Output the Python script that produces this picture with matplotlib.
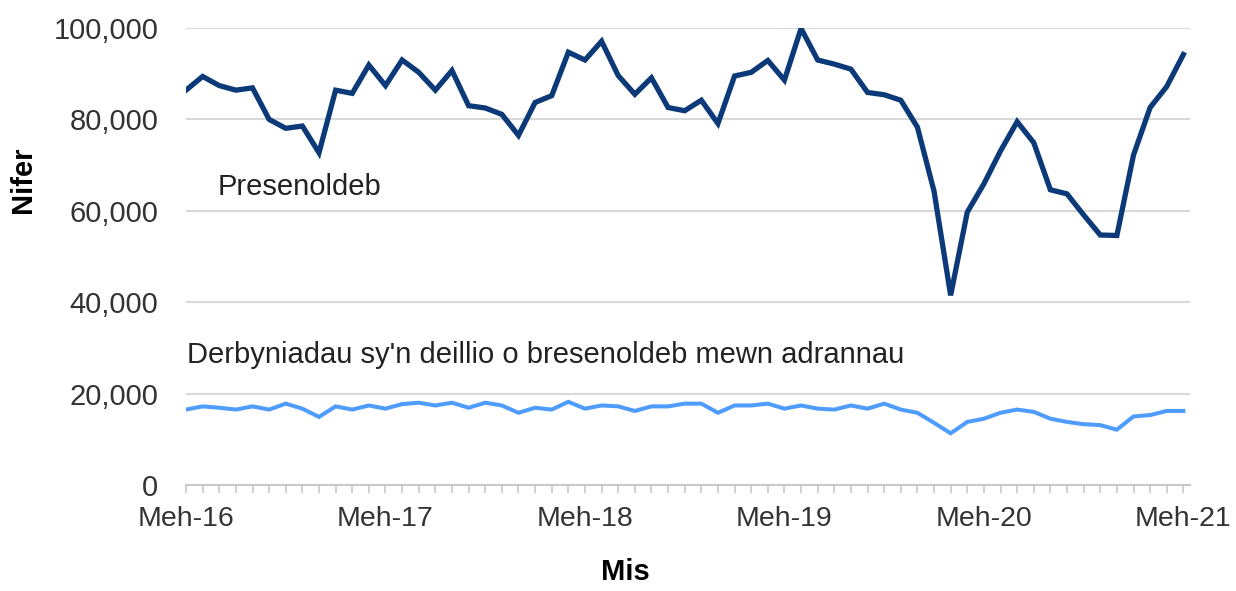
import numpy as np
import matplotlib.pyplot as plt
from matplotlib.ticker import FuncFormatter, MultipleLocator

plt.rcParams["font.family"] = ["Liberation Sans", "DejaVu Sans"]

# Monthly values, Jun 2016 - Jun 2021
presenoldeb = [86400, 89400, 87400, 86400, 86900, 80000, 78050, 78550, 72700, 86400,
               85700, 91900, 87400, 93000, 90300, 86400, 90700, 83000, 82500, 81100,
               76500, 83700, 85200, 94700, 93000, 97100, 89600, 85500, 89100, 82600,
               81900, 84200, 79100, 89500, 90300, 92900, 88600, 99900, 93000, 92100,
               91000, 85900, 85400, 84200, 78300, 64300, 41500, 59700, 65900, 73100,
               79500, 74900, 64600, 63700, 59100, 54700, 54600, 72200, 82600, 87200,
               94200]
derbyniadau = [16500, 17200, 16900, 16500, 17200, 16500, 17800, 16700, 14900, 17200,
               16500, 17400, 16700, 17700, 18000, 17400, 18000, 16900, 18000, 17400,
               15800, 16900, 16500, 18200, 16700, 17400, 17200, 16200, 17200, 17200,
               17800, 17800, 15800, 17400, 17400, 17800, 16700, 17400, 16700, 16500,
               17400, 16700, 17800, 16500, 15800, 13600, 11300, 13800, 14500, 15800,
               16500, 16000, 14500, 13800, 13300, 13100, 12100, 15000, 15300, 16200,
               16200]
tick_labels = ["Meh-16", "Meh-17", "Meh-18", "Meh-19", "Meh-20", "Meh-21"]

x = np.arange(len(presenoldeb))

fig = plt.figure(figsize=(12.36, 5.91), dpi=100)
ax = fig.add_axes([0.1505, 0.1794, 0.8123, 0.7732])

ax.plot(x, presenoldeb, color="#0c3a78", lw=3.8, solid_joinstyle="miter", zorder=3)
ax.plot(x, derbyniadau, color="#4f9cff", lw=2.9, solid_joinstyle="miter", zorder=3)

ax.text(1.93, 65200, "Presenoldeb", fontsize=21, color="#222222", va="center")
ax.text(0.06, 28400, "Derbyniadau sy'n deillio o bresenoldeb mewn adrannau",
        fontsize=21, color="#222222", va="center")

ax.set_xlim(0, 60.4)
ax.set_ylim(0, 100000)
ax.set_yticks(np.arange(0, 100001, 20000))
ax.yaxis.set_major_formatter(FuncFormatter(lambda v, p: f"{int(v):,}"))
ax.set_xticks(np.arange(0, 61, 12))
ax.set_xticklabels(tick_labels)
ax.xaxis.set_minor_locator(MultipleLocator(1))

ax.grid(axis="y", color="#d9d9d9", lw=1.5)
ax.set_axisbelow(True)
for s in ["top", "right", "left"]:
    ax.spines[s].set_visible(False)
ax.spines["bottom"].set_color("#c8c8c8")
ax.spines["bottom"].set_linewidth(1.5)

ax.tick_params(axis="y", length=0, pad=20, labelsize=21, labelcolor="#333333")
ax.tick_params(axis="x", which="both", length=6, width=1.2, color="#c8c8c8",
               pad=9, labelsize=20.5, labelcolor="#333333")

ax.set_ylabel("Nifer", fontsize=21, fontweight="bold")
ax.yaxis.set_label_coords(-0.148, 0.667)
ax.set_xlabel("Mis", fontsize=21, fontweight="bold")
ax.xaxis.set_label_coords(0.438, -0.16)

fig.savefig("out.png", dpi=100)
